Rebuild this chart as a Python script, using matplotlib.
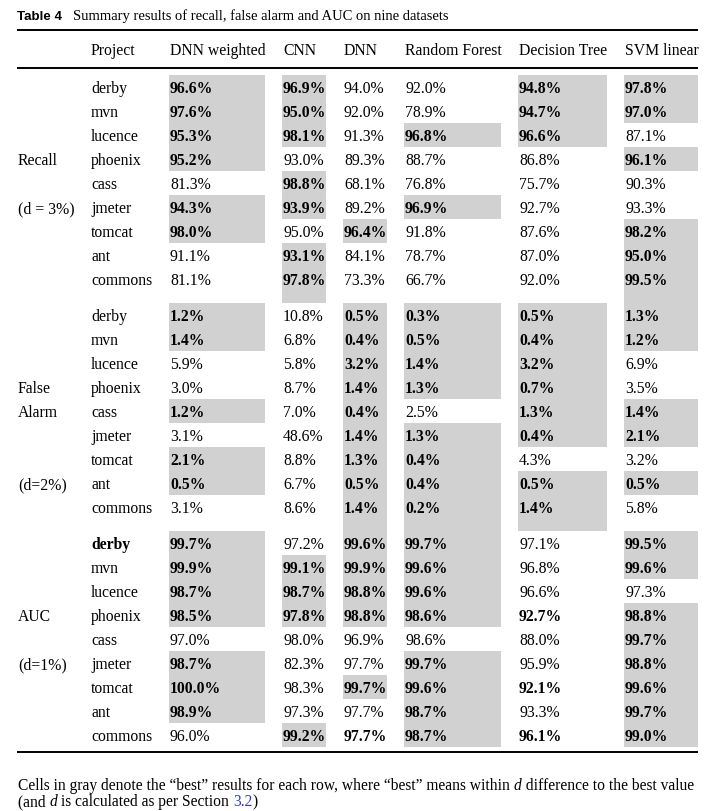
import matplotlib
matplotlib.use("Agg")
import matplotlib.pyplot as plt

# table content
models = ["DNN weighted", "CNN", "DNN", "Random Forest", "Decision Tree", "SVM linear"]
projects = ["derby", "mvn", "lucence", "phoenix", "cass", "jmeter", "tomcat", "ant", "commons"]

recall = [
    [96.6, 96.9, 94.0, 92.0, 94.8, 97.8],
    [97.6, 95.0, 92.0, 78.9, 94.7, 97.0],
    [95.3, 98.1, 91.3, 96.8, 96.6, 87.1],
    [95.2, 93.0, 89.3, 88.7, 86.8, 96.1],
    [81.3, 98.8, 68.1, 76.8, 75.7, 90.3],
    [94.3, 93.9, 89.2, 96.9, 92.7, 93.3],
    [98.0, 95.0, 96.4, 91.8, 87.6, 98.2],
    [91.1, 93.1, 84.1, 78.7, 87.0, 95.0],
    [81.1, 97.8, 73.3, 66.7, 92.0, 99.5],
]
false_alarm = [
    [1.2, 10.8, 0.5, 0.3, 0.5, 1.3],
    [1.4, 6.8, 0.4, 0.5, 0.4, 1.2],
    [5.9, 5.8, 3.2, 1.4, 3.2, 6.9],
    [3.0, 8.7, 1.4, 1.3, 0.7, 3.5],
    [1.2, 7.0, 0.4, 2.5, 1.3, 1.4],
    [3.1, 48.6, 1.4, 1.3, 0.4, 2.1],
    [2.1, 8.8, 1.3, 0.4, 4.3, 3.2],
    [0.5, 6.7, 0.5, 0.4, 0.5, 0.5],
    [3.1, 8.6, 1.4, 0.2, 1.4, 5.8],
]
auc = [
    [99.7, 97.2, 99.6, 99.7, 97.1, 99.5],
    [99.9, 99.1, 99.9, 99.6, 96.8, 99.6],
    [98.7, 98.7, 98.8, 99.6, 96.6, 97.3],
    [98.5, 97.8, 98.8, 98.6, 92.7, 98.8],
    [97.0, 98.0, 96.9, 98.6, 88.0, 99.7],
    [98.7, 82.3, 97.7, 99.7, 95.9, 98.8],
    [100.0, 98.3, 99.7, 99.6, 92.1, 99.6],
    [98.9, 97.3, 97.7, 98.7, 93.3, 99.7],
    [96.0, 99.2, 97.7, 98.7, 96.1, 99.0],
]

# g = gray + bold, b = bold only, . = plain
recall_mark = ["gg..gg", "gg..gg", "gg.gg.", "g....g", ".g....",
               "gg.g..", "g.g..g", ".g...g", ".g...g"]
fa_mark = ["g.gggg", "g.gggg", "..ggg.", "..ggg.", "g.g.gg",
           "..gggg", "g.gg..", "g.gggg", "..ggg."]
auc_mark = ["g.gg.g", "gggg.g", "gggg..", "ggggbg", ".....g",
            "g..g.g", "g.ggbg", "g..g.g", ".gbgbg"]

sections = [
    (recall, recall_mark, {3: "Recall", 5: "(d = 3%)"}),
    (false_alarm, fa_mark, {3: "False", 4: "Alarm", 7: "(d=2%)"}),
    (auc, auc_mark, {3: "AUC", 5: "(d=1%)"}),
]

# layout (pixels)
W, H = 720, 812
col_left = [169, 282, 343, 404, 518, 624]
col_right = [265, 326, 387, 501, 607, 698]
x_label, x_proj = 18, 91
row_h, gap = 24, 12
top0 = 76
gray = "#d1d1d1"
serif = "Liberation Serif"
fs = 11.3

fig = plt.figure(figsize=(W / 100, H / 100), dpi=100)
ax = fig.add_axes([0, 0, 1, 1])
ax.set_xlim(0, W)
ax.set_ylim(H, 0)
ax.axis("off")

# title
ax.text(17, 20, "Table 4", family="Liberation Sans", weight="bold",
        fontsize=9.6, va="baseline")
ax.text(73, 20, "Summary results of recall, false alarm and AUC on nine datasets",
        family=serif, fontsize=10.5, va="baseline")

# rules
for y in (31, 69, 753):
    ax.plot([17, 698], [y, y], color="black", lw=1.4, solid_capstyle="butt")

# header
ax.text(x_proj, 55, "Project", family=serif, fontsize=fs, va="baseline")
for j, m in enumerate(models):
    ax.text(col_left[j] + 1, 55, m, family=serif, fontsize=fs, va="baseline")

top = top0
for s, (vals, marks, labels) in enumerate(sections):
    n = len(projects)
    # row extents; the last row of a section carries the gap below it
    tops = [top + i * row_h for i in range(n)]
    heights = [row_h] * n
    if s < len(sections) - 1:
        heights[-1] += gap
    # gray blocks, merged per column
    for j in range(len(models)):
        i = 0
        while i < n:
            if marks[i][j] == "g":
                k = i
                while k + 1 < n and marks[k + 1][j] == "g":
                    k += 1
                y0 = tops[i]
                y1 = tops[k] + heights[k]
                ax.bar(col_left[j], y1 - y0, width=col_right[j] - col_left[j],
                       bottom=y0, align="edge", color=gray, linewidth=0, zorder=0)
                i = k + 1
            else:
                i += 1
    for i, p in enumerate(projects):
        yb = tops[i] + row_h / 2 + 5.3
        pw = "bold" if (s == 2 and i == 0) else "normal"
        ax.text(x_proj, yb, p, family=serif, fontsize=fs, weight=pw, va="baseline")
        if i in labels:
            ax.text(x_label, yb, labels[i], family=serif, fontsize=fs, va="baseline")
        for j in range(len(models)):
            w = "bold" if marks[i][j] in "gb" else "normal"
            ax.text(col_left[j] + 1, yb, f"{vals[i][j]:.1f}%", family=serif,
                    fontsize=fs, weight=w, va="baseline")
    top = tops[-1] + heights[-1]

# footnote, written piece by piece
renderer = fig.canvas.get_renderer()
fn = 11.2
lines = [
    (790, [("Cells in gray denote the \u201cbest\u201d results for each row, where \u201cbest\u201d means within ", "normal", "black"),
           ("d", "italic", "black"),
           (" difference to the best value", "normal", "black")]),
    (806.5, [("(and ", "normal", "black"), ("d", "italic", "black"),
             (" is calculated as per Section ", "normal", "black"),
             ("3.2", "normal", "#3535d0"), (")", "normal", "black")]),
]
for yb, parts in lines:
    x = 18
    for txt, style, col in parts:
        tt = ax.text(x, yb, txt, family=serif, fontsize=fn, style=style,
                     color=col, va="baseline")
        bb = tt.get_window_extent(renderer)
        x += bb.width

fig.savefig("out.png", dpi=100)
